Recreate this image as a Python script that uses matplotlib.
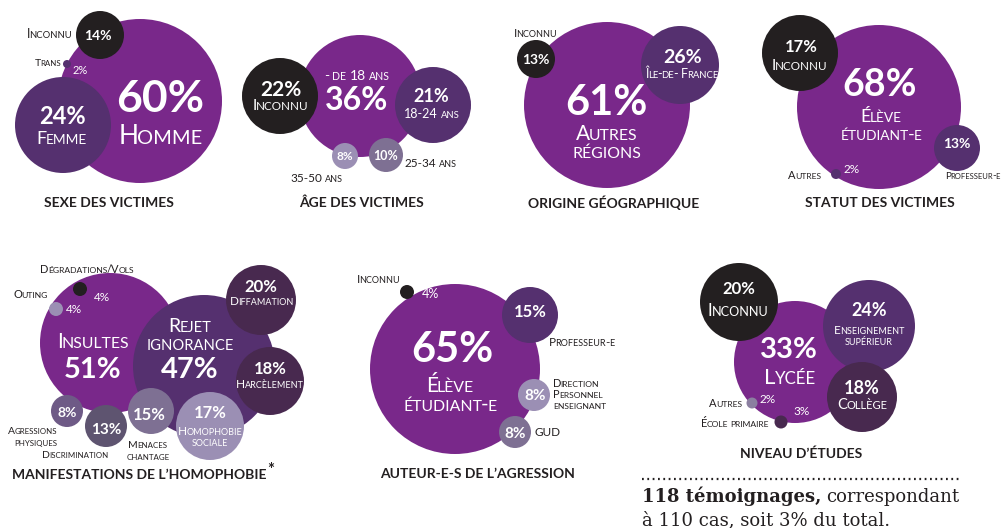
import matplotlib
matplotlib.use('Agg')
import matplotlib.pyplot as plt
from matplotlib.patches import Circle

plt.rcParams['font.family'] = ['Lato', 'DejaVu Sans']

# couleurs des bulles
VIOLET = '#79288a'
PRUNE = '#55306f'
AUBERGINE = '#48294f'
NOIR = '#231f20'
GRIS = '#7e7093'
LILAS = '#9b8fb4'
ARDOISE = '#5e5470'
MAUVE = '#6e5a86'
BLANC = 'white'
ENCRE = '#231f20'

# données (en %)
sexe_labels = ['Homme', 'Femme', 'Inconnu', 'Trans']
sexe_values = [60, 24, 14, 2]

age_labels = ['- de 18 ans', 'Inconnu', '18-24 ans', '25-34 ans', '35-50 ans']
age_values = [36, 22, 21, 10, 8]

origine_labels = ['Autres\nrégions', 'Île-de- France', 'Inconnu']
origine_values = [61, 26, 13]

statut_labels = ['Élève\nétudiant-e', 'Inconnu', 'Professeur-e', 'Autres']
statut_values = [68, 17, 13, 2]

manif_labels = ['Insultes', 'Rejet\nignorance', 'Diffamation', 'Harcèlement',
                'Homophobie\nsociale', 'Menaces\nchantage', 'Discrimination',
                'Agressions\nphysiques', 'Dégradations/Vols', 'Outing']
manif_values = [51, 47, 20, 18, 17, 15, 13, 8, 4, 4]

auteur_labels = ['Élève\nétudiant-e', 'Professeur-e', 'Direction\nPersonnel\nenseignant', 'GUD', 'Inconnu']
auteur_values = [65, 15, 8, 8, 4]

niveau_labels = ['Lycée', 'Enseignement\nsupérieur', 'Inconnu', 'Collège', 'École primaire', 'Autres']
niveau_values = [33, 24, 20, 18, 3, 2]

# placement des bulles : (x, y, rayon, couleur), même ordre que les valeurs
sexe_layout = [(140, 101, 82, VIOLET), (63, 125, 48, PRUNE), (100, 35, 24, NOIR), (67, 64, 4, PRUNE)]
age_layout = [(360, 96, 61, VIOLET), (280, 96, 38, NOIR), (433, 105, 38, PRUNE),
              (386, 155, 17, GRIS), (345, 156, 13, LILAS)]
origine_layout = [(607, 105, 83, VIOLET), (680, 65, 39, PRUNE), (536, 59, 19, NOIR)]
statut_layout = [(879, 107, 82, VIOLET), (800, 53, 38, NOIR), (957, 148, 23, PRUNE), (836, 174, 5, PRUNE)]
manif_layout = [(110, 343, 70, VIOLET), (204, 366, 71, PRUNE), (261, 300, 35, AUBERGINE),
                (270, 381, 34, AUBERGINE), (210, 426, 34, LILAS), (151, 411, 23, GRIS),
                (106, 426, 21, ARDOISE), (67, 411, 16, MAUVE), (80, 289, 7, NOIR), (56, 309, 7, LILAS)]
auteur_layout = [(455, 369, 85, VIOLET), (530, 315, 28, PRUNE), (534, 395, 16, LILAS),
                 (515, 432, 16, GRIS), (407, 292, 7, NOIR)]
niveau_layout = [(795, 362, 61, VIOLET), (869, 326, 46, PRUNE), (739, 302, 39, NOIR),
                 (862, 397, 35, AUBERGINE), (781, 422, 6.5, AUBERGINE), (752, 403, 5.5, '#8b7fa0')]

fig = plt.figure(figsize=(10.04, 5.28), dpi=100)
ax = fig.add_axes([0, 0, 1, 1])
ax.set_xlim(0, 1004)
ax.set_ylim(528, 0)
ax.axis('off')
renderer = fig.canvas.get_renderer()


def bulles(values, layout):
    for v, (cx, cy, r, col) in zip(values, layout):
        ax.add_patch(Circle((cx, cy), r, facecolor=col, edgecolor='none'))


def pct(v):
    return f'{v}%'


def sc(x, y, s, size, color=BLANC, ha='center', weight='normal', dy=None, ratio=0.76):
    """Texte en petites capitales ; y = milieu des capitales de la 1re ligne."""
    if dy is None:
        dy = size * 1.3
    for i, line in enumerate(s.split('\n')):
        base = y + i * dy + size * 0.5
        parts = []
        for ch in line:
            key = 'sp' if ch == ' ' else ch.islower()
            if parts and parts[-1][1] == key:
                parts[-1][0] += ch.upper()
            else:
                parts.append([ch.upper(), key])
        pieces = []
        total = 0
        prev_text = False
        for txt, key in parts:
            if key == 'sp':
                w = size * 0.32 * len(txt)
                pieces.append((None, w))
                prev_text = False
            else:
                fs = size * ratio if key else size
                t = ax.text(0, base, txt, fontsize=fs, color=color, fontweight=weight,
                            ha='left', va='baseline')
                w = t.get_window_extent(renderer).width
                if prev_text:
                    # léger crénage entre capitale et petites capitales
                    total -= size * 0.08
                    pieces[-1] = (pieces[-1][0], pieces[-1][1] - size * 0.08)
                pieces.append((t, w))
                prev_text = True
            total += w
        if ha == 'center':
            start = x - total / 2
        elif ha == 'right':
            start = x - total
        else:
            start = x
        for t, w in pieces:
            if t is not None:
                t.set_x(start)
            start += w


def titre(x, y, s):
    ax.text(x, y, s, fontsize=10, fontweight='bold', color=ENCRE, ha='center', va='center')


# --- sexe des victimes
bulles(sexe_values, sexe_layout)
sc(160, 96, pct(sexe_values[0]), 32, weight='bold')
sc(160, 134, sexe_labels[0], 19)
sc(62, 115, pct(sexe_values[1]), 17, weight='bold')
sc(62, 137, sexe_labels[1], 13)
sc(98, 35, pct(sexe_values[2]), 10, weight='bold')
sc(72, 34, sexe_labels[2], 9, color=ENCRE, ha='right')
sc(61, 62, sexe_labels[3], 7.5, color=ENCRE, ha='right')
sc(80, 70, pct(sexe_values[3]), 8)
titre(109, 203, 'SEXE DES VICTIMES')

# --- âge des victimes
bulles(age_values, age_layout)
sc(357, 75, age_labels[0], 10)
sc(357, 98, pct(age_values[0]), 23, weight='bold')
sc(281, 89, pct(age_values[1]), 15, weight='bold')
sc(281, 104, age_labels[1], 11)
sc(431, 96, pct(age_values[2]), 13, weight='bold')
sc(432, 114, age_labels[2], 9)
sc(386, 155, pct(age_values[3]), 9, weight='bold')
sc(405, 163, age_labels[3], 8.5, color=ENCRE, ha='left')
sc(345, 156, pct(age_values[4]), 8.5, weight='bold')
sc(317, 178, age_labels[4], 8.5, color=ENCRE)
titre(361, 203, 'ÂGE DES VICTIMES')

# --- origine géographique
bulles(origine_values, origine_layout)
sc(606, 100, pct(origine_values[0]), 30, weight='bold')
sc(607, 132, origine_labels[0], 15, dy=19)
sc(683, 56, pct(origine_values[1]), 14, weight='bold')
sc(682, 74, origine_labels[1], 9)
sc(536, 59, pct(origine_values[2]), 10, weight='bold')
sc(535, 33, origine_labels[2], 8.5, color=ENCRE)
titre(614, 203, 'ORIGINE GÉOGRAPHIQUE')

# --- statut des victimes
bulles(statut_values, statut_layout)
sc(880, 82, pct(statut_values[0]), 27, weight='bold')
sc(881, 115, statut_labels[0], 13, dy=18)
sc(801, 46, pct(statut_values[1]), 12, weight='bold')
sc(800, 65, statut_labels[1], 11)
sc(957, 143, pct(statut_values[2]), 10, weight='bold')
sc(945, 175, statut_labels[2], 7.2, color=ENCRE, ha='left')
sc(821, 175, statut_labels[3], 8, color=ENCRE, ha='right')
sc(852, 169, pct(statut_values[3]), 8.5)
titre(880, 203, 'STATUT DES VICTIMES')

# --- manifestations de l'homophobie
bulles(manif_values, manif_layout)
sc(93, 341, manif_labels[0], 15)
sc(93, 368, pct(manif_values[0]), 21, weight='bold')
sc(190, 325, manif_labels[1], 14, dy=18)
sc(190, 368, pct(manif_values[1]), 21, weight='bold')
sc(261, 286, pct(manif_values[2]), 12, weight='bold')
sc(262, 301, manif_labels[2], 8.5)
sc(270, 368, pct(manif_values[3]), 12, weight='bold')
sc(270, 384, manif_labels[3], 8.5)
sc(210, 412, pct(manif_values[4]), 12, weight='bold')
sc(210, 431, manif_labels[4], 8.5, dy=10.5)
sc(149, 414, pct(manif_values[5]), 12, weight='bold')
sc(148, 444, manif_labels[5], 7.5, color=ENCRE, dy=12.5)
sc(106, 428, pct(manif_values[6]), 11, weight='bold')
sc(75, 454, manif_labels[6], 7.5, color=ENCRE)
sc(67, 412, pct(manif_values[7]), 10, weight='bold')
sc(57, 430, manif_labels[7], 7.5, color=ENCRE, ha='right', dy=12)
sc(87, 269, manif_labels[8], 8, color=ENCRE)
sc(102, 297, pct(manif_values[8]), 8.5)
sc(48, 294, manif_labels[9], 8, color=ENCRE, ha='right')
sc(74, 309, pct(manif_values[9]), 8.5)
t = ax.text(12, 475, 'MANIFESTATIONS DE L’HOMOPHOBIE', fontsize=10, fontweight='bold',
            color=ENCRE, ha='left', va='center')
w = t.get_window_extent(renderer).width
ax.text(12 + w + 1, 470, '*', fontsize=12, fontweight='bold', color=ENCRE, ha='left', va='center')

# --- auteur-e-s de l'agression
bulles(auteur_values, auteur_layout)
sc(452, 347, pct(auteur_values[0]), 30, weight='bold')
sc(450, 384, auteur_labels[0], 15, dy=19.5)
sc(530, 311, pct(auteur_values[1]), 12, weight='bold')
sc(549, 342, auteur_labels[1], 8.5, color=ENCRE, ha='left')
sc(535, 394, pct(auteur_values[2]), 11, weight='bold')
sc(553, 383, auteur_labels[2], 8, color=ENCRE, ha='left', dy=11)
sc(515, 433, pct(auteur_values[3]), 11, weight='bold')
sc(535, 432, auteur_labels[3], 8.5, color=ENCRE, ha='left')
sc(378, 279, auteur_labels[4], 8.5, color=ENCRE)
sc(430, 293, pct(auteur_values[4]), 9)
titre(478, 474, 'AUTEUR-E-S DE L’AGRESSION')

# --- niveau d'études
bulles(niveau_values, niveau_layout)
sc(789, 348, pct(niveau_values[0]), 21, weight='bold')
sc(790, 376, niveau_labels[0], 16)
sc(869, 310, pct(niveau_values[1]), 13, weight='bold')
sc(869, 330, niveau_labels[1], 8.5, dy=11)
sc(739, 288, pct(niveau_values[2]), 12, weight='bold')
sc(738, 310, niveau_labels[2], 12)
sc(862, 387, pct(niveau_values[3]), 13, weight='bold')
sc(862, 404, niveau_labels[3], 10.5)
sc(802, 411, pct(niveau_values[4]), 8.5)
sc(769, 423, niveau_labels[4], 8, color=ENCRE, ha='right')
sc(768, 399, pct(niveau_values[5]), 8.5)
sc(742, 403, niveau_labels[5], 8, color=ENCRE, ha='right')
titre(801, 454, 'NIVEAU D’ÉTUDES')

# note de bas de page
ax.plot([642, 962], [479, 479], color=ENCRE, lw=1.6, linestyle=(0, (0.8, 1.6)))
serif = 'DejaVu Serif'
t = ax.text(642, 502, '118 témoignages,', fontfamily=serif, fontsize=13, fontweight='bold',
            color=ENCRE, ha='left', va='baseline')
w = t.get_window_extent(renderer).width
ax.text(642 + w + 5, 502, 'correspondant', fontfamily=serif, fontsize=13,
        color=ENCRE, ha='left', va='baseline')
ax.text(642, 525, 'à 110 cas, soit 3% du total.', fontfamily=serif, fontsize=13,
        color=ENCRE, ha='left', va='baseline')

fig.savefig('out.png', dpi=100, facecolor='white')
